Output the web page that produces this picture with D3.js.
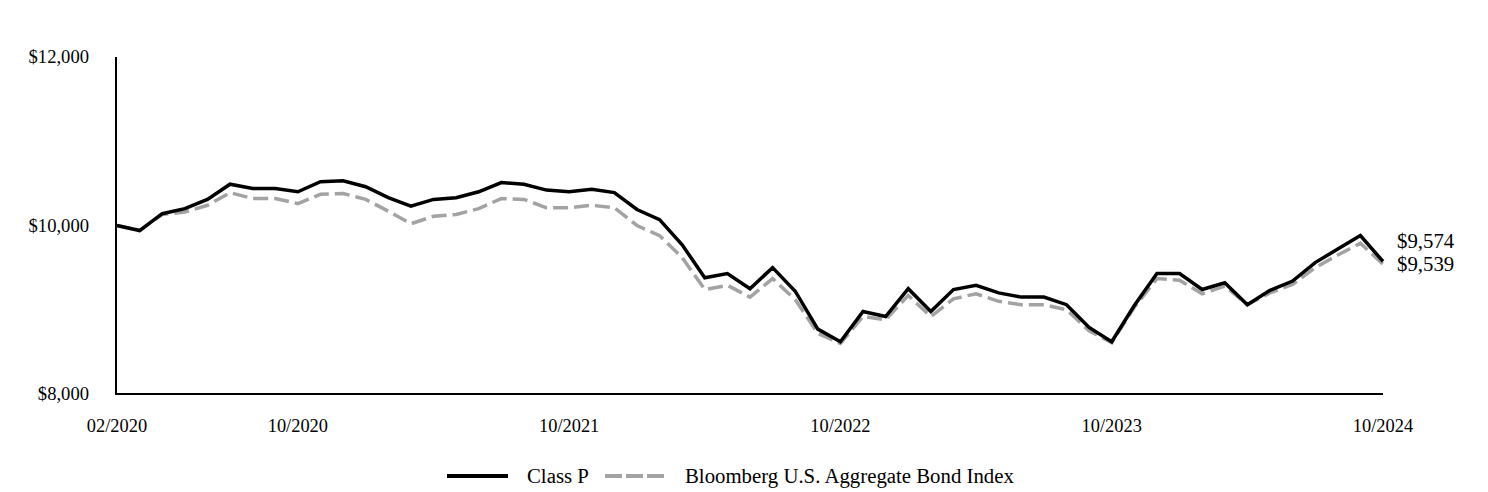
<!DOCTYPE html>
<html><head><meta charset="utf-8">
<script src="https://cdn.jsdelivr.net/npm/d3@7"></script>
<style>body{margin:0;background:#fff}svg{display:block}text{font-family:"Liberation Serif","Times New Roman",serif;fill:#000}</style>
</head><body><svg id="c" width="1488" height="492"></svg>
<script>
const startMonth = "2020-02";
const tickLabels = ["02/2020","10/2020","10/2021","10/2022","10/2023","10/2024"];
const tickIndex = [0,8,20,32,44,56];
const yTicks = [8000,10000,12000];
const classP = [10000,9940,10140,10200,10310,10490,10440,10440,10400,10520,10530,10460,10330,10230,10310,10330,10400,10510,10490,10420,10400,10430,10390,10190,10070,9770,9380,9430,9250,9500,9220,8770,8620,8980,8920,9250,8980,9240,9290,9200,9150,9150,9060,8790,8620,9050,9430,9430,9240,9320,9060,9230,9340,9560,9720,9880,9574];
const bbIndex = [10000,9940,10130,10160,10240,10390,10320,10320,10260,10370,10380,10310,10170,10020,10110,10130,10200,10320,10310,10210,10210,10240,10210,10000,9880,9620,9240,9290,9150,9370,9120,8720,8600,8920,8880,9170,8920,9130,9190,9100,9060,9060,9000,8750,8610,9030,9370,9350,9190,9280,9060,9200,9300,9500,9650,9790,9539];
const seriesNames = ["Class P","Bloomberg U.S. Aggregate Bond Index"];
const endLabels = ["$9,574","$9,539"];

const svg = d3.select("#c");
const x = d3.scaleLinear().domain([0, classP.length-1]).range([117, 1383]);
const y = d3.scaleLinear().domain([8000,12000]).range([394, 57]);
const fmt = v => "$" + d3.format(",")(v);
const gray = "#a3a3a3";

// axes
svg.append("line").attr("x1",116).attr("x2",116).attr("y1",57).attr("y2",394).attr("stroke","#000").attr("stroke-width",2);
svg.append("line").attr("x1",115).attr("x2",1383).attr("y1",394).attr("y2",394).attr("stroke","#000").attr("stroke-width",2);

svg.selectAll("text.yt").data(yTicks).enter().append("text")
  .attr("x",89).attr("y",d=>y(d)+6).attr("text-anchor","end").attr("font-size",18.6).text(fmt);
svg.selectAll("text.xt").data(tickIndex).enter().append("text")
  .attr("x",d=>x(d)).attr("y",432).attr("text-anchor","middle").attr("font-size",18.4).text((d,i)=>tickLabels[i]);

const line = d3.line().x((d,i)=>x(i)).y(d=>y(d));
svg.append("path").datum(bbIndex).attr("d",line).attr("fill","none").attr("stroke",gray).attr("stroke-width",3.5).attr("stroke-dasharray","15,6");
svg.append("path").datum(classP).attr("d",line).attr("fill","none").attr("stroke","#000").attr("stroke-width",3.5).attr("stroke-linejoin","miter");

svg.append("text").attr("x",1397).attr("y",248).attr("font-size",20.8).text(endLabels[0]);
svg.append("text").attr("x",1397).attr("y",271).attr("font-size",20.8).text(endLabels[1]);

// legend
svg.append("line").attr("x1",447).attr("x2",508).attr("y1",476).attr("y2",476).attr("stroke","#000").attr("stroke-width",4);
svg.append("text").attr("x",527).attr("y",483).attr("font-size",20.8).text(seriesNames[0]);
svg.append("line").attr("x1",605).attr("x2",665).attr("y1",476).attr("y2",476).attr("stroke",gray).attr("stroke-width",4).attr("stroke-dasharray","17,4");
svg.append("text").attr("x",685).attr("y",483).attr("font-size",20.8).text(seriesNames[1]);
</script></body></html>
